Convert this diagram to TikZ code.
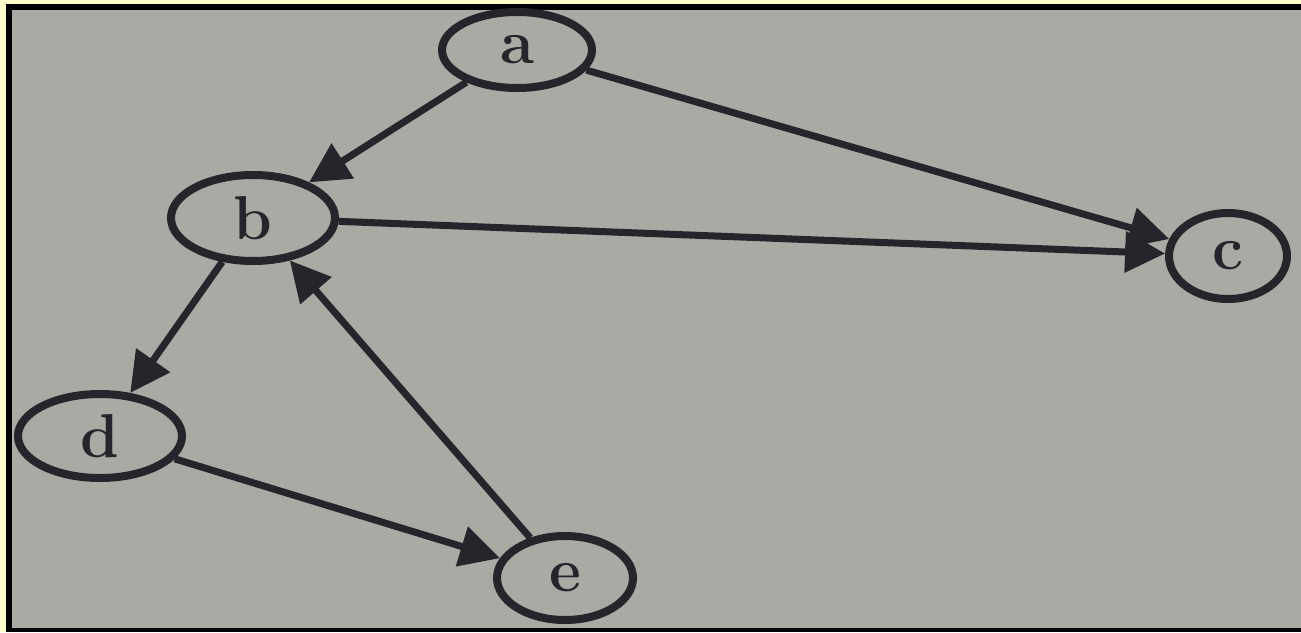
\documentclass[tikz,border=0pt]{standalone}
\usetikzlibrary{shapes.geometric,arrows.meta}
\definecolor{paper}{RGB}{170,170,164}
\definecolor{ink}{RGB}{40,36,44}
\definecolor{frameyellow}{RGB}{255,255,204}
\begin{document}
\begin{tikzpicture}[x=1pt,y=-1pt,
  vertex/.style={ellipse,draw=ink,line width=8pt,inner sep=0pt,
    font=\fontsize{62}{62}\selectfont\bfseries,text=ink},
  edge/.style={draw=ink,line width=7pt,-{Triangle[length=40pt,width=40pt]}}]
\useasboundingbox (0,0) rectangle (1301,632);
\fill[frameyellow] (0,0) rectangle (1301,632);
\fill[black] (6,4) rectangle (1301,632);
\fill[paper] (12,10) rectangle (1301,628);
\node[vertex,minimum width=150pt,minimum height=76pt] (a) at (517,50) {a};
\node[vertex,minimum width=164pt,minimum height=86pt] (b) at (253,218) {b};
\node[vertex,minimum width=118pt,minimum height=86pt] (c) at (1228,256) {c};
\node[vertex,minimum width=164pt,minimum height=84pt] (d) at (100,436) {d};
\node[vertex,minimum width=136pt,minimum height=84pt] (e) at (565,578) {e};
\draw[edge] (a) -- (b);
\draw[edge] (a) -- (c);
\draw[edge] (b) -- (c);
\draw[edge] (b) -- (d);
\draw[edge] (e) -- (b);
\draw[edge] (d) -- (e);
\end{tikzpicture}
\end{document}
